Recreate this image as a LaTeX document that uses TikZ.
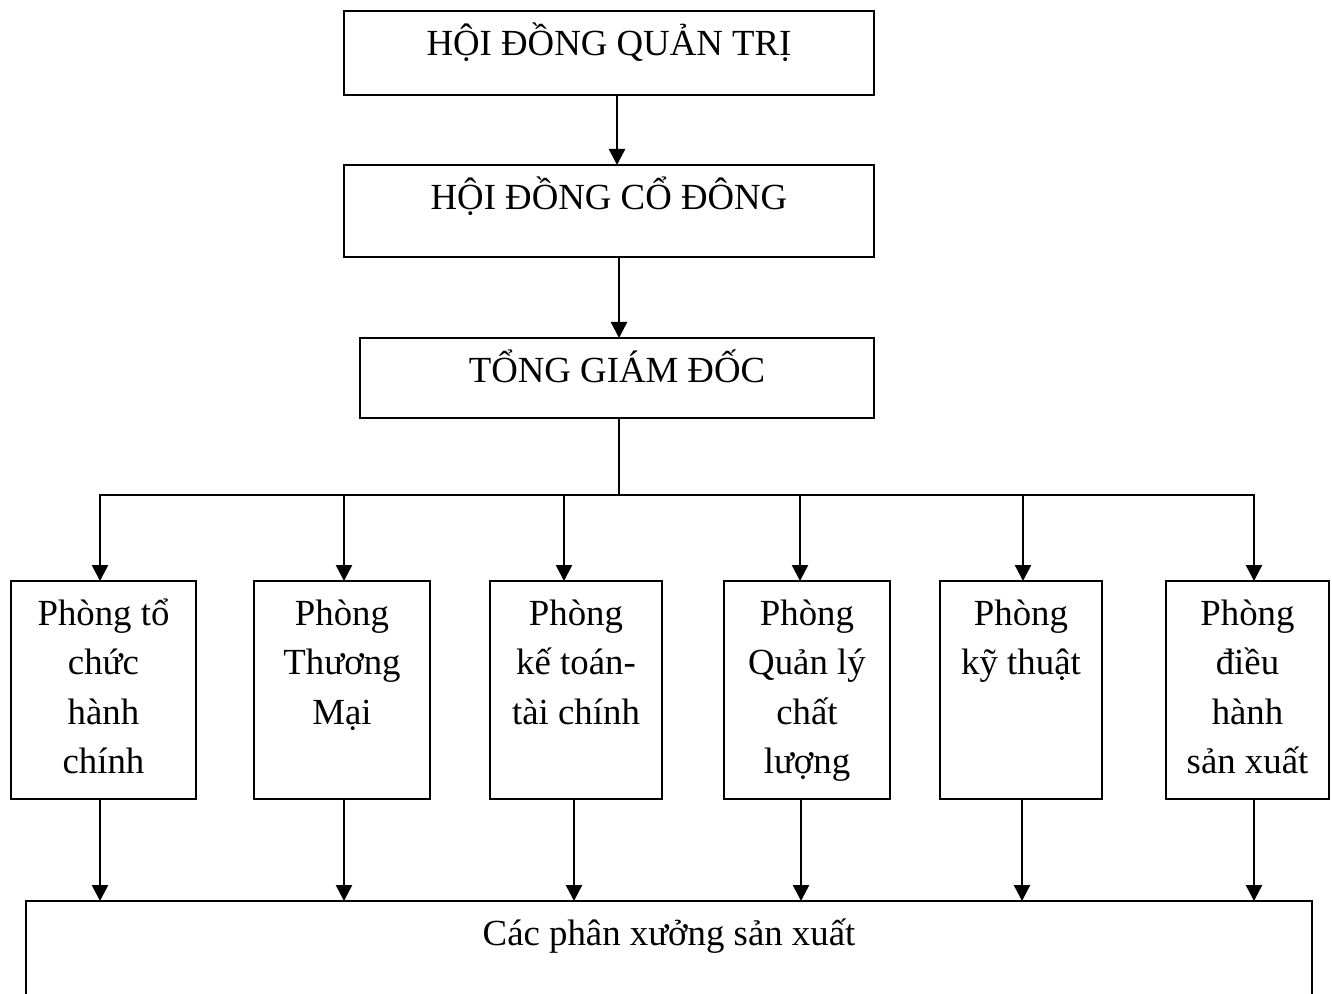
\documentclass[tikz,border=0pt]{standalone}
\usepackage{fontspec}
\setmainfont{Liberation Serif}
\usetikzlibrary{arrows.meta,fit}
\begin{document}
\begin{tikzpicture}[x=0.5pt,y=-0.5pt,
  box/.style={draw,line width=1.15pt,inner sep=0pt,outer sep=0pt},
  txt/.style={anchor=north,inner sep=0pt,align=center,font=\fontsize{18.4}{24.65}\selectfont},
  arr/.style={line width=1.25pt,-{Triangle[length=8pt,width=8pt]}},
  ln/.style={line width=1.15pt}]
\clip (0,0) rectangle (1332,994);
% top chain
\node[box,fit={(344,11) (874,95)}] (b1) {};
\node[box,fit={(344,165) (874,257)}] (b2) {};
\node[box,fit={(360,338) (874,418)}] (b3) {};
\node[txt] (t1) at (b1.north) {\rule{0pt}{22pt}HỘI ĐỒNG QUẢN TRỊ};
\node[txt] (t2) at (b2.north) {\rule{0pt}{22pt}HỘI ĐỒNG CỔ ĐÔNG};
\node[txt] (t3) at (b3.north) {\rule{0pt}{22pt}TỔNG GIÁM ĐỐC};
% departments
\node[box,fit={(11,581) (196,799)}] (p1) {};
\node[box,fit={(254,581) (430,799)}] (p2) {};
\node[box,fit={(490,581) (662,799)}] (p3) {};
\node[box,fit={(724,581) (890,799)}] (p4) {};
\node[box,fit={(940,581) (1102,799)}] (p5) {};
\node[box,fit={(1166,581) (1329,799)}] (p6) {};
\node[txt] (tp1) at (p1.north) {\rule{0pt}{22pt}Phòng tổ\\chức\\hành\\chính};
\node[txt] (tp2) at (p2.north) {\rule{0pt}{22pt}Phòng\\Thương\\Mại};
\node[txt] (tp3) at (p3.north) {\rule{0pt}{22pt}Phòng\\kế toán-\\tài chính};
\node[txt] (tp4) at (p4.north) {\rule{0pt}{22pt}Phòng\\Quản lý\\chất\\lượng};
\node[txt] (tp5) at (p5.north) {\rule{0pt}{22pt}Phòng\\kỹ thuật};
\node[txt] (tp6) at (p6.north) {\rule{0pt}{22pt}Phòng\\điều\\hành\\sản xuất};
% bottom
\node[box,fit={(26,901) (1312,1030)}] (bot) {};
\node[txt] (tb) at (bot.north) {\rule{0pt}{22pt}Các phân xưởng sản xuất};
% connectors
\coordinate (s1) at (617,0);
\coordinate (s2) at (619,0);
\draw[arr] (b1.south -| s1) -- (b2.north -| s1);
\draw[arr] (b2.south -| s2) -- (b3.north -| s2);
\coordinate (bus) at (619,495);
\coordinate (j1) at (100,495);
\coordinate (j2) at (344,495);
\coordinate (j3) at (564,495);
\coordinate (j4) at (800,495);
\coordinate (j5) at (1023,495);
\coordinate (j6) at (1254,495);
\draw[ln] (b3.south -| bus) -- (bus);
\draw[ln,line cap=rect] (j1) -- (j6);
\draw[arr] (j1) -- (j1 |- p1.north);
\draw[arr] (j2) -- (j2 |- p2.north);
\draw[arr] (j3) -- (j3 |- p3.north);
\draw[arr] (j4) -- (j4 |- p4.north);
\draw[arr] (j5) -- (j5 |- p5.north);
\draw[arr] (j6) -- (j6 |- p6.north);
\coordinate (d1) at (100,0);
\coordinate (d2) at (344,0);
\coordinate (d3) at (574,0);
\coordinate (d4) at (801,0);
\coordinate (d5) at (1022,0);
\coordinate (d6) at (1254,0);
\draw[arr] (p1.south -| d1) -- (bot.north -| d1);
\draw[arr] (p2.south -| d2) -- (bot.north -| d2);
\draw[arr] (p3.south -| d3) -- (bot.north -| d3);
\draw[arr] (p4.south -| d4) -- (bot.north -| d4);
\draw[arr] (p5.south -| d5) -- (bot.north -| d5);
\draw[arr] (p6.south -| d6) -- (bot.north -| d6);
\end{tikzpicture}
\end{document}
